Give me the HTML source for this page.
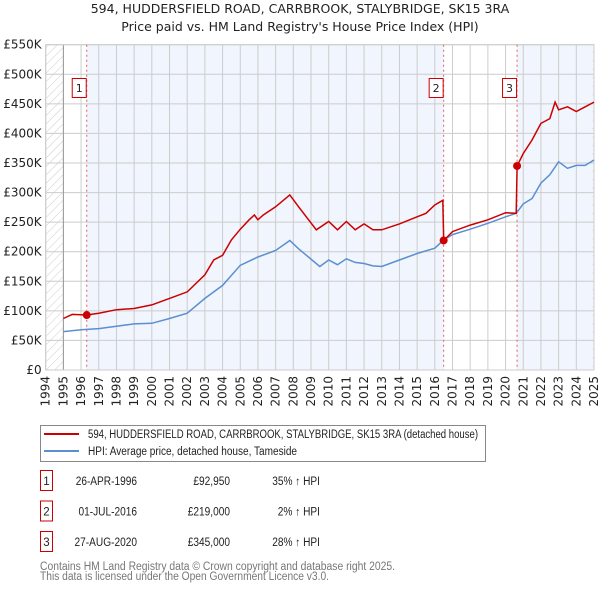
<!DOCTYPE html>
<html><head><meta charset="utf-8"><style>
body{margin:0;background:#fff;font-family:"Liberation Sans","DejaVu Sans",sans-serif;}
svg text{font-family:"DejaVu Sans","Liberation Sans",sans-serif;}
svg text.sm{font-family:"Liberation Sans","DejaVu Sans",sans-serif;}
</style></head><body>
<svg id="c" width="600" height="590" xmlns="http://www.w3.org/2000/svg">
<defs><pattern id="hatch" width="6" height="6" patternUnits="userSpaceOnUse" patternTransform="rotate(45)"><line x1="0" y1="0" x2="0" y2="6" stroke="#ccc" stroke-width="1"/></pattern></defs>
<text x="300" y="13" text-anchor="middle" font-size="12.5" fill="#222">594, HUDDERSFIELD ROAD, CARRBROOK, STALYBRIDGE, SK15 3RA</text>
<text x="300" y="31" text-anchor="middle" font-size="12.5" fill="#222">Price paid vs. HM Land Registry's House Price Index (HPI)</text>
<g id="plot"></g>
<g>
<rect x="40.5" y="425.5" width="445" height="36" fill="#fff" stroke="#888"/>
<line x1="44" y1="434" x2="79" y2="434" stroke="#cc0000" stroke-width="2"/>
<text class="sm" x="88" y="438" font-size="11.5" fill="#222" textLength="390" lengthAdjust="spacingAndGlyphs">594, HUDDERSFIELD ROAD, CARRBROOK, STALYBRIDGE, SK15 3RA (detached house)</text>
<line x1="44" y1="451" x2="79" y2="451" stroke="#5b8fd0" stroke-width="2"/>
<text class="sm" x="88" y="455" font-size="11.5" fill="#222" textLength="209" lengthAdjust="spacingAndGlyphs">HPI: Average price, detached house, Tameside</text>
</g>
<g id="table" font-size="11.5" fill="#222"></g>
<text class="sm" x="40" y="570" font-size="11.5" fill="#777" textLength="355" lengthAdjust="spacingAndGlyphs">Contains HM Land Registry data © Crown copyright and database right 2025.</text>
<text class="sm" x="40" y="580" font-size="11.5" fill="#777" textLength="289" lengthAdjust="spacingAndGlyphs">This data is licensed under the Open Government Licence v3.0.</text>
</svg>
<script>
const hpiYears=[1995,1996,1997,1998,1999,2000,2001,2002,2003,2004,2005,2006,2007,2007.8,2008.3,2009.5,2010,2010.5,2011,2011.5,2012,2012.5,2013,2014,2015,2016,2016.5,2017,2018,2019,2020,2020.6,2021,2021.5,2022,2022.5,2023,2023.5,2024,2024.5,2025];
const hpiValues=[65,68,70,74,78,79,87,96,121,143,177,191,202,219,205,175,186,178,188,182,180,176,175,186,197,206,220,229,238,248,259,265,281,290,316,330,352,341,346,346,355];
const propYears=[1995,1995.5,1996.32,1997,1998,1999,2000,2001,2002,2003,2003.5,2004,2004.5,2005,2005.5,2005.8,2006,2006.3,2007,2007.8,2008.3,2009.3,2010,2010.5,2011,2011.5,2012,2012.5,2013,2014,2015,2015.5,2016,2016.45,2016.5,2017,2018,2019,2020,2020.6,2020.65,2021,2021.5,2022,2022.5,2022.8,2023,2023.5,2024,2024.5,2025];
const propValues=[87,94,92.95,96,102,104,110,121,132,161,186,194,220,238,254,262,254,262,276,296,276,237,251,237,251,237,247,237,237,247,259,265,279,287,219,234,245,254,266,265,345,366,389,417,425,453,440,445,437,445,453];
const saleLabels=["1","2","3"];
const saleYears=[1996.32,2016.5,2020.65];
const saleValues=[92.95,219,345];
const saleDates=["26-APR-1996","01-JUL-2016","27-AUG-2020"];
const salePrices=["£92,950","£219,000","£345,000"];
const saleDiffs=["35% ↑ HPI","2% ↑ HPI","28% ↑ HPI"];
const yTicks=[0,50,100,150,200,250,300,350,400,450,500,550];
const yTickLabels=["£0","£50K","£100K","£150K","£200K","£250K","£300K","£350K","£400K","£450K","£500K","£550K"];
const xTicks=[1994,1995,1996,1997,1998,1999,2000,2001,2002,2003,2004,2005,2006,2007,2008,2009,2010,2011,2012,2013,2014,2015,2016,2017,2018,2019,2020,2021,2022,2023,2024,2025];

const NS="http://www.w3.org/2000/svg";
const L=45.7,R=594,T=44.7,B=370;
const X=y=>L+(y-1994)*(R-L)/31;
const Y=v=>B-v*(B-T)/550;
const g=document.getElementById('plot');
function mk(t,a,p){const e=document.createElementNS(NS,t);for(const k in a)e.setAttribute(k,a[k]);(p||g).appendChild(e);return e;}
mk('rect',{x:L,y:T,width:R-L,height:B-T,fill:'#fff'});
mk('rect',{x:X(saleYears[0]),y:T,width:X(saleYears[1])-X(saleYears[0]),height:B-T,fill:'#eef3fd',opacity:0.8});
mk('rect',{x:X(saleYears[2]),y:T,width:R-X(saleYears[2]),height:B-T,fill:'#eef3fd',opacity:0.8});
mk('rect',{x:L,y:T,width:X(1995)-L,height:B-T,fill:'url(#hatch)'});
mk('rect',{x:X(2024.92),y:T,width:R-X(2024.92),height:B-T,fill:'url(#hatch)'});
yTicks.forEach((v,i)=>{mk('line',{x1:L,x2:R,y1:Y(v),y2:Y(v),stroke:'#ccc','stroke-width':1});
const t=mk('text',{x:L-4,y:Y(v)+4,'text-anchor':'end','font-size':12,fill:'#222'});t.textContent=yTickLabels[i];

});
xTicks.forEach(y=>{mk('line',{x1:X(y),x2:X(y),y1:T,y2:B,stroke:'#ccc','stroke-width':1});
const t=mk('text',{x:0,y:0,'text-anchor':'end','font-size':12,fill:'#222',transform:`translate(${X(y)+4},${B+6}) rotate(-90)`});t.textContent=y;

});
mk('line',{x1:X(1995),x2:X(1995),y1:T,y2:B,stroke:'#999'});
mk('rect',{x:L,y:T,width:R-L,height:B-T,fill:'none',stroke:'#ccc'});
saleYears.forEach((y,i)=>{const l=mk('line',{x1:X(y),x2:X(y),y1:T,y2:B,stroke:'#e06060','stroke-dasharray':'2,3','stroke-width':1});


const b=mk('rect',{x:X(y)-14.5,y:78.5,width:14,height:19,fill:'#fff',stroke:'#cc0000'});


const t=mk('text',{x:X(y)-7.5,y:92,'text-anchor':'middle','font-size':11,fill:'#222'});t.textContent=saleLabels[i];});
const pts=(xs,vs)=>xs.map((x,i)=>X(x).toFixed(1)+','+Y(vs[i]).toFixed(1)).join(' ');
const hl=mk('polyline',{points:pts(hpiYears,hpiValues),fill:'none',stroke:'#5b8fd0','stroke-width':1.5});


const pl=mk('polyline',{points:pts(propYears,propValues),fill:'none',stroke:'#cc0000','stroke-width':1.5});


saleYears.forEach((y,i)=>{const c=mk('circle',{cx:X(y),cy:Y(saleValues[i]),r:4,fill:'#cc0000'});

});
const tb=document.getElementById('table');
function cond(t){const w=t.getComputedTextLength();t.setAttribute('textLength',(w*0.88).toFixed(1));t.setAttribute('lengthAdjust','spacingAndGlyphs');}
saleLabels.forEach((s,i)=>{const y=483+i*30.5;
mk('rect',{x:40.5,y:y-12.5,width:12,height:20,fill:'#fff',stroke:'#cc0000'},tb);
let t=mk('text',{class:'sm',x:46.5,y:y+2,'text-anchor':'middle'},tb);t.textContent=s;
t=mk('text',{class:'sm',x:137,y:y+2,'text-anchor':'end'},tb);t.textContent=saleDates[i];cond(t);
t=mk('text',{class:'sm',x:230,y:y+2,'text-anchor':'end'},tb);t.textContent=salePrices[i];cond(t);
t=mk('text',{class:'sm',x:320,y:y+2,'text-anchor':'end'},tb);t.textContent=saleDiffs[i];cond(t);});
</script>
</body></html>
